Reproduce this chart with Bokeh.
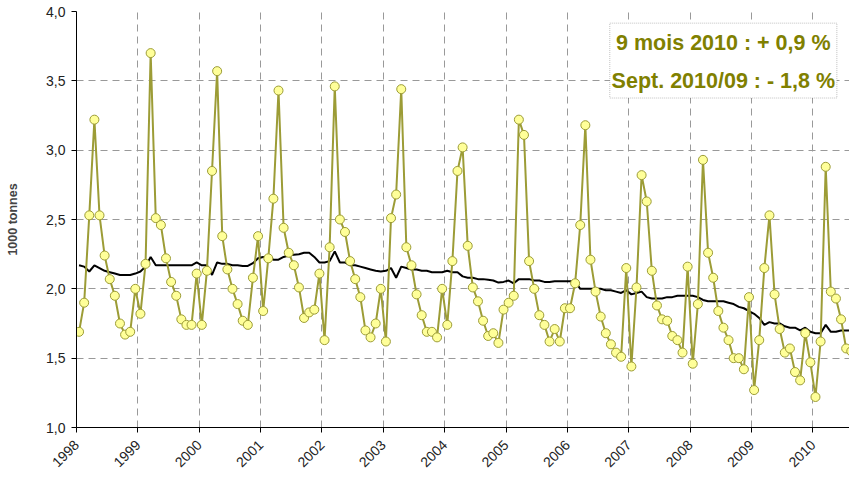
import math
from bokeh.plotting import figure
from bokeh.models import (FixedTicker, CustomJSTickFormatter, Range1d, BoxAnnotation,
                          Label, ColumnDataSource)
from bokeh.embed import file_html
from bokeh.resources import INLINE

# ---- data (1000 tonnes, monthly from Jan 1998) ----
start_year = 1998
values = [
    1.69, 1.90, 2.53, 3.22, 2.53, 2.24, 2.07, 1.95, 1.75, 1.67, 1.69, 2.00,   # 1998
    1.82, 2.18, 3.70, 2.51, 2.46, 2.22, 2.05, 1.95, 1.78, 1.74, 1.74, 2.11,   # 1999
    1.74, 2.13, 2.85, 3.57, 2.38, 2.14, 2.00, 1.89, 1.77, 1.74, 2.08, 2.38,   # 2000
    1.84, 2.22, 2.65, 3.43, 2.44, 2.26, 2.17, 2.01, 1.79, 1.83, 1.85, 2.11,   # 2001
    1.63, 2.30, 3.46, 2.50, 2.41, 2.20, 2.07, 1.94, 1.70, 1.65, 1.75, 2.00,   # 2002
    1.62, 2.51, 2.68, 3.44, 2.30, 2.17, 1.96, 1.81, 1.69, 1.69, 1.65, 2.00,   # 2003
    1.74, 2.20, 2.85, 3.02, 2.31, 2.01, 1.91, 1.77, 1.66, 1.68, 1.61, 1.85,   # 2004
    1.90, 1.95, 3.22, 3.11, 2.20, 2.00, 1.81, 1.74, 1.62, 1.71, 1.62, 1.86,   # 2005
    1.86, 2.04, 2.46, 3.18, 2.21, 1.98, 1.80, 1.68, 1.60, 1.54, 1.51, 2.15,   # 2006
    1.44, 2.01, 2.82, 2.63, 2.13, 1.88, 1.78, 1.77, 1.66, 1.63, 1.54, 2.16,   # 2007
    1.46, 1.89, 2.93, 2.26, 2.08, 1.84, 1.72, 1.63, 1.50, 1.50, 1.42, 1.94,   # 2008
    1.27, 1.63, 2.15, 2.53, 1.96, 1.71, 1.54, 1.57, 1.40, 1.34, 1.68, 1.47,   # 2009
    1.22, 1.62, 2.88, 1.98, 1.93, 1.78, 1.57, 1.55,                           # 2010
]
trend = [
    2.17, 2.16, 2.125, 2.17, 2.15, 2.13, 2.12, 2.11, 2.10, 2.10, 2.10, 2.11,
    2.125, 2.16, 2.23, 2.17, 2.17, 2.17, 2.17, 2.17, 2.17, 2.17, 2.17, 2.19,
    2.17, 2.17, 2.10, 2.19, 2.18, 2.18, 2.17, 2.17, 2.165, 2.165, 2.185, 2.22,
    2.23, 2.23, 2.21, 2.21, 2.23, 2.24, 2.245, 2.25, 2.26, 2.26, 2.23, 2.19,
    2.19, 2.20, 2.27, 2.19, 2.19, 2.17, 2.17, 2.16, 2.15, 2.14, 2.13, 2.125,
    2.13, 2.15, 2.08, 2.16, 2.15, 2.14, 2.14, 2.13, 2.13, 2.12, 2.12, 2.12,
    2.13, 2.12, 2.12, 2.09, 2.08, 2.08, 2.07, 2.07, 2.065, 2.06, 2.045, 2.05,
    2.06, 2.04, 2.07, 2.07, 2.07, 2.06, 2.06, 2.05, 2.05, 2.055, 2.055, 2.055,
    2.055, 2.055, 2.00, 2.00, 2.00, 2.00, 2.00, 1.99, 1.99, 1.98, 1.97, 1.99,
    1.96, 1.97, 1.98, 1.94, 1.93, 1.93, 1.93, 1.94, 1.94, 1.95, 1.95, 1.95,
    1.95, 1.94, 1.92, 1.91, 1.91, 1.91, 1.91, 1.90, 1.89, 1.87, 1.86, 1.84,
    1.82, 1.79, 1.74, 1.76, 1.75, 1.75, 1.73, 1.72, 1.72, 1.70, 1.72, 1.69,
    1.68, 1.68, 1.74, 1.69, 1.69, 1.70, 1.70, 1.70,
]
year_ticks = list(range(1998, 2011))
y_ticks = [1.0, 1.5, 2.0, 2.5, 3.0, 3.5, 4.0]
note_lines = ["9 mois 2010 : + 0,9 %", "Sept. 2010/09 : - 1,8 %"]

x = [start_year + (i + 0.5) / 12 for i in range(len(values))]
src = ColumnDataSource(dict(x=x, v=values, t=trend))

FONT = "Liberation Sans"
OLIVE = "#9c9c36"
TEXT_OLIVE = "#808000"

p = figure(frame_width=773, frame_height=416, output_backend="svg", toolbar_location=None,
           x_range=Range1d(1998, 2010.596), y_range=Range1d(1.0, 4.0),
           min_border_left=76, min_border_right=0, min_border_top=11, min_border_bottom=48)
p.outline_line_color = None
p.background_fill_color = "white"
p.border_fill_color = "white"

# grids
p.xgrid.ticker = FixedTicker(ticks=year_ticks)
p.ygrid.ticker = FixedTicker(ticks=y_ticks)
for g in (p.xgrid, p.ygrid):
    g.grid_line_color = "#999999"
    g.grid_line_dash = "7 5"
    g.grid_line_width = 1

# axes
xa = p.xaxis[0]
xa.ticker = FixedTicker(ticks=year_ticks)
xa.major_label_overrides = {y: str(y) for y in year_ticks}
xa.major_label_orientation = math.pi / 4
ya = p.yaxis[0]
ya.ticker = FixedTicker(ticks=y_ticks)
ya.formatter = CustomJSTickFormatter(code="return tick.toFixed(1).replace('.', ',');")
ya.axis_label = "1000 tonnes"
ya.axis_label_text_font = FONT
ya.axis_label_text_font_style = "bold"
ya.axis_label_text_font_size = "12.5px"
ya.axis_label_standoff = 23
for ax in (xa, ya):
    ax.axis_line_color = "black"
    ax.major_tick_line_color = "black"
    ax.major_tick_out = 5
    ax.major_tick_in = 0
    ax.minor_tick_line_color = None
    ax.major_label_text_font = FONT
    ax.major_label_text_font_size = "14px"
    ax.major_label_text_color = "#222222"
    ax.major_label_standoff = 6
xa.major_label_standoff = 10

# series
p.line("x", "t", source=src, line_color="black", line_width=2)
p.line("x", "v", source=src, line_color=OLIVE, line_width=2)
p.scatter("x", "v", source=src, size=9, fill_color="#ffff99", line_color=OLIVE, line_width=1)

# annotation box
box = BoxAnnotation(left=2006.69, right=2010.39, top=3.916, bottom=3.376,
                    fill_color="white", fill_alpha=1.0, line_color="#333333",
                    line_dash="1 1", line_width=1)
p.add_layout(box)
for txt, yy in zip(note_lines, [3.774, 3.50]):
    p.add_layout(Label(x=2008.54, y=yy, text=txt, text_align="center", text_baseline="middle",
                       text_font=FONT, text_font_style="bold", text_font_size="21.5px",
                       text_color=TEXT_OLIVE))

open("out.html", "w").write(file_html(p, INLINE))
